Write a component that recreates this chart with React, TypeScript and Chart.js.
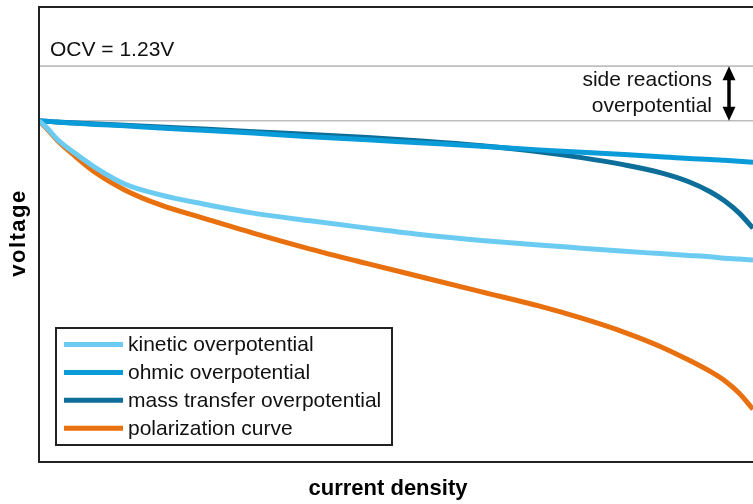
import React, { useEffect, useRef } from "react";
import { Chart, registerables } from "chart.js";

Chart.register(...registerables);

const currentDensity = [0, 0.01, 0.025, 0.05, 0.08, 0.12, 0.17, 0.23, 0.3, 0.38, 0.46, 0.54, 0.62, 0.7, 0.76, 0.82, 0.87, 0.91, 0.94, 0.96, 0.98, 1.0];
const kineticOverpotential = [1.11, 1.096, 1.07, 1.039, 1.006, 0.971, 0.947, 0.927, 0.907, 0.89, 0.874, 0.859, 0.847, 0.837, 0.83, 0.823, 0.818, 0.814, 0.811, 0.808, 0.806, 0.804];
const ohmicOverpotential = [1.11, 1.109, 1.107, 1.105, 1.102, 1.099, 1.094, 1.089, 1.083, 1.075, 1.068, 1.061, 1.054, 1.046, 1.041, 1.036, 1.031, 1.027, 1.025, 1.023, 1.021, 1.019];
const massTransferOverpotential = [1.11, 1.109, 1.107, 1.105, 1.103, 1.1, 1.096, 1.092, 1.086, 1.08, 1.073, 1.065, 1.055, 1.042, 1.029, 1.013, 0.996, 0.976, 0.954, 0.934, 0.908, 0.874];
const polarizationCurve = [1.11, 1.094, 1.068, 1.033, 0.995, 0.958, 0.925, 0.896, 0.863, 0.828, 0.796, 0.765, 0.734, 0.703, 0.676, 0.645, 0.614, 0.584, 0.559, 0.539, 0.512, 0.476];

const seriesLabels = ["kinetic overpotential", "ohmic overpotential", "mass transfer overpotential", "polarization curve"];
const seriesColors = ["#6CCBF1", "#0A9BD9", "#0D6E99", "#E8700F"];
const ocvVoltage = 1.23;
const startVoltage = 1.11;
const ocvLabel = "OCV = 1.23V";
const sideLabel = ["side reactions", "overpotential"];
const xTitle = "current density";
const yTitle = "voltage";

const FONT = '"Liberation Sans", Arial, Helvetica, sans-serif';

const decorPlugin = {
  id: "decor",
  beforeDatasetsDraw(chart: any) {
    const { ctx, chartArea, scales } = chart;
    const y = scales.y;
    const yOcv = y.getPixelForValue(ocvVoltage);
    const yStart = y.getPixelForValue(startVoltage);
    ctx.save();
    ctx.strokeStyle = "#BEBEBE";
    ctx.lineWidth = 1.6;
    [yOcv, yStart].forEach((yy) => {
      ctx.beginPath();
      ctx.moveTo(chartArea.left, yy);
      ctx.lineTo(chartArea.right, yy);
      ctx.stroke();
    });
    ctx.fillStyle = "#111";
    ctx.font = `21px ${FONT}`;
    ctx.textAlign = "left";
    ctx.textBaseline = "alphabetic";
    ctx.fillText(ocvLabel, chartArea.left + 11, yOcv - 10);
    ctx.textAlign = "right";
    const mid = (yOcv + yStart) / 2;
    ctx.fillText(sideLabel[0], 712, mid - 7.5);
    ctx.fillText(sideLabel[1], 712, mid + 18.5);
    // double arrow
    const ax = 729;
    ctx.strokeStyle = "#000";
    ctx.fillStyle = "#000";
    ctx.lineWidth = 3.5;
    ctx.beginPath();
    ctx.moveTo(ax, yOcv + 8);
    ctx.lineTo(ax, yStart - 8);
    ctx.stroke();
    ctx.beginPath();
    ctx.moveTo(ax, yOcv);
    ctx.lineTo(ax - 6.5, yOcv + 14);
    ctx.lineTo(ax + 6.5, yOcv + 14);
    ctx.closePath();
    ctx.fill();
    ctx.beginPath();
    ctx.moveTo(ax, yStart);
    ctx.lineTo(ax - 6.5, yStart - 14);
    ctx.lineTo(ax + 6.5, yStart - 14);
    ctx.closePath();
    ctx.fill();
    ctx.restore();
  },
  afterDatasetsDraw(chart: any) {
    const { ctx, chartArea } = chart;
    ctx.save();
    // frame (right side is beyond the visible page)
    ctx.strokeStyle = "#222";
    ctx.lineWidth = 2;
    ctx.beginPath();
    ctx.moveTo(chartArea.right + 5, chartArea.top);
    ctx.lineTo(chartArea.left, chartArea.top);
    ctx.lineTo(chartArea.left, chartArea.bottom);
    ctx.lineTo(chartArea.right + 5, chartArea.bottom);
    ctx.stroke();

    // legend
    const lx = 56, ly = 328, lw = 336, lh = 117;
    ctx.fillStyle = "#fff";
    ctx.fillRect(lx, ly, lw, lh);
    ctx.strokeStyle = "#222";
    ctx.lineWidth = 2;
    ctx.strokeRect(lx, ly, lw, lh);
    ctx.font = `21px ${FONT}`;
    ctx.textAlign = "left";
    ctx.textBaseline = "middle";
    chart.data.datasets.forEach((ds: any, i: number) => {
      const cy = ly + 16.5 + i * 27.9;
      ctx.strokeStyle = ds.borderColor;
      ctx.lineWidth = 5;
      ctx.beginPath();
      ctx.moveTo(64, cy);
      ctx.lineTo(123, cy);
      ctx.stroke();
      ctx.fillStyle = "#111";
      ctx.fillText(ds.label, 128, cy + 1);
    });

    // axis titles
    ctx.fillStyle = "#000";
    ctx.font = `bold 22px ${FONT}`;
    ctx.textAlign = "center";
    ctx.textBaseline = "alphabetic";
    ctx.fillText(xTitle, 388, 495);
    ctx.translate(25, 233);
    ctx.rotate(-Math.PI / 2);
    (ctx as any).letterSpacing = "1.5px";
    ctx.fillText(yTitle, 0, 0);
    ctx.restore();
  },
};

export default function App() {
  const ref = useRef<HTMLCanvasElement | null>(null);
  useEffect(() => {
    if (!ref.current) return;
    const series = [kineticOverpotential, ohmicOverpotential, massTransferOverpotential, polarizationCurve];
    const chart = new Chart(ref.current, {
      type: "line",
      data: {
        datasets: series.map((vals, i) => ({
          label: seriesLabels[i],
          data: currentDensity.map((x, j) => ({ x, y: vals[j] })),
          borderColor: seriesColors[i],
          backgroundColor: seriesColors[i],
          borderWidth: 5,
          pointRadius: 0,
          cubicInterpolationMode: "monotone" as const,
          fill: false,
        })),
      },
      options: {
        responsive: false,
        animation: false,
        devicePixelRatio: 1,
        layout: { padding: { left: 39, top: 7, right: 0, bottom: 42 } },
        scales: {
          x: { type: "linear", min: 0, max: 1, display: false },
          y: { type: "linear", min: 0.36, max: 1.36, display: false },
        },
        plugins: {
          legend: { display: false },
          tooltip: { enabled: false },
        },
      },
      plugins: [decorPlugin],
    });
    return () => chart.destroy();
  }, []);
  return (
    <div style={{ position: "fixed", left: 0, top: 0, width: 753, height: 504, overflow: "hidden", background: "#fff" }}>
      <canvas ref={ref} width={753} height={504} style={{ display: "block" }} />
    </div>
  );
}
